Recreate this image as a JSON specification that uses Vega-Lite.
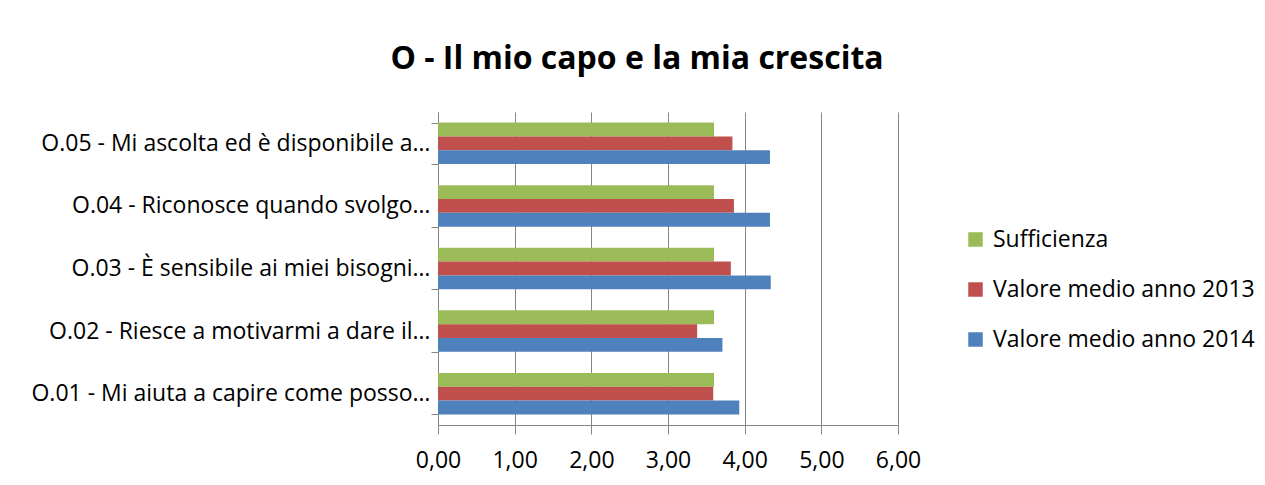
{
  "$schema": "https://vega.github.io/schema/vega-lite/v6.json",
  "width": 460,
  "height": 313,
  "autosize": {"type": "none"},
  "padding": {"left": 438, "top": 112, "right": 367, "bottom": 60},
  "background": "white",
  "title": {
    "text": "O - Il mio capo e la mia crescita",
    "font": "Open Sans",
    "fontSize": 32,
    "fontWeight": "bold",
    "color": "#000000",
    "anchor": "middle",
    "dx": -31,
    "offset": 25
  },
  "data": {
    "values": [
      {"domanda": "O.05 - Mi ascolta ed è disponibile a…", "serie": "Sufficienza", "valore": 3.6},
      {"domanda": "O.05 - Mi ascolta ed è disponibile a…", "serie": "Valore medio anno 2013", "valore": 3.84},
      {"domanda": "O.05 - Mi ascolta ed è disponibile a…", "serie": "Valore medio anno 2014", "valore": 4.33},
      {"domanda": "O.04 - Riconosce quando svolgo…", "serie": "Sufficienza", "valore": 3.6},
      {"domanda": "O.04 - Riconosce quando svolgo…", "serie": "Valore medio anno 2013", "valore": 3.86},
      {"domanda": "O.04 - Riconosce quando svolgo…", "serie": "Valore medio anno 2014", "valore": 4.33},
      {"domanda": "O.03 - È sensibile ai miei bisogni…", "serie": "Sufficienza", "valore": 3.6},
      {"domanda": "O.03 - È sensibile ai miei bisogni…", "serie": "Valore medio anno 2013", "valore": 3.82},
      {"domanda": "O.03 - È sensibile ai miei bisogni…", "serie": "Valore medio anno 2014", "valore": 4.34},
      {"domanda": "O.02 - Riesce a motivarmi a dare il…", "serie": "Sufficienza", "valore": 3.6},
      {"domanda": "O.02 - Riesce a motivarmi a dare il…", "serie": "Valore medio anno 2013", "valore": 3.38},
      {"domanda": "O.02 - Riesce a motivarmi a dare il…", "serie": "Valore medio anno 2014", "valore": 3.71},
      {"domanda": "O.01 - Mi aiuta a capire come posso…", "serie": "Sufficienza", "valore": 3.6},
      {"domanda": "O.01 - Mi aiuta a capire come posso…", "serie": "Valore medio anno 2013", "valore": 3.59},
      {"domanda": "O.01 - Mi aiuta a capire come posso…", "serie": "Valore medio anno 2014", "valore": 3.93}
    ]
  },
  "mark": {"type": "bar"},
  "encoding": {
    "y": {
      "field": "domanda",
      "type": "nominal",
      "sort": "descending",
      "scale": {"paddingInner": 0.337, "paddingOuter": 0.1685},
      "axis": {
        "title": null,
        "tickBand": "extent",
        "domainColor": "#868686",
        "tickColor": "#868686",
        "tickSize": 7,
        "labelPadding": 1,
        "labelFont": "Open Sans",
        "labelFontSize": 23,
        "labelColor": "#000000",
        "labelLimit": 500,
        "grid": false
      }
    },
    "yOffset": {
      "field": "serie",
      "type": "nominal",
      "sort": ["Sufficienza", "Valore medio anno 2013", "Valore medio anno 2014"],
      "scale": {"paddingInner": 0, "paddingOuter": 0}
    },
    "x": {
      "field": "valore",
      "type": "quantitative",
      "scale": {"domain": [0, 6], "nice": false},
      "axis": {
        "title": null,
        "values": [0, 1, 2, 3, 4, 5, 6],
        "labelExpr": "replace(format(datum.value, '.2f'), '.', ',')",
        "labelFlush": false,
        "labelOverlap": false,
        "grid": true,
        "gridColor": "#868686",
        "gridWidth": 1,
        "domainColor": "#868686",
        "tickColor": "#868686",
        "tickSize": 9,
        "labelPadding": 15,
        "labelFont": "Open Sans",
        "labelFontSize": 23,
        "labelColor": "#000000"
      }
    },
    "color": {
      "field": "serie",
      "type": "nominal",
      "scale": {
        "domain": ["Sufficienza", "Valore medio anno 2013", "Valore medio anno 2014"],
        "range": ["#9BBB59", "#C0504D", "#4F81BD"]
      },
      "legend": {
        "title": null,
        "orient": "none",
        "legendX": 526,
        "legendY": 116,
        "padding": 0,
        "symbolType": "square",
        "symbolSize": 210,
        "symbolStrokeWidth": 0,
        "labelFont": "Open Sans",
        "labelFontSize": 23,
        "labelColor": "#000000",
        "labelOffset": 6,
        "rowPadding": 26,
        "labelLimit": 400
      }
    }
  },
  "config": {
    "view": {"stroke": null}
  }
}
